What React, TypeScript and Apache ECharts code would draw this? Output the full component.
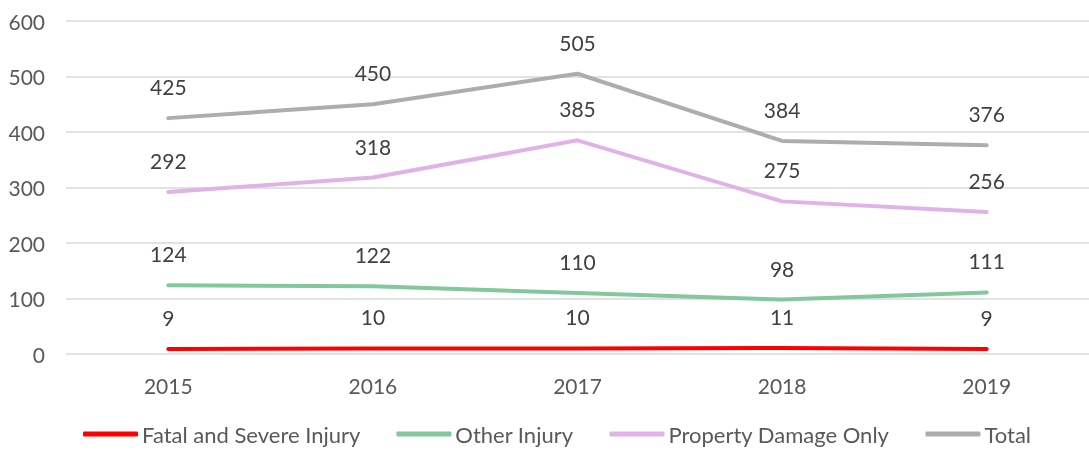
import React, { useEffect, useRef } from "react";
import * as echarts from "echarts";

const years = ["2015", "2016", "2017", "2018", "2019"];
const fatalSevere = [9, 10, 10, 11, 9];
const otherInjury = [124, 122, 110, 98, 111];
const propertyDamage = [292, 318, 385, 275, 256];
const total = [425, 450, 505, 384, 376];
const yTicks = { min: 0, max: 600, interval: 100 };

const FONT = "Lato, 'Open Sans', sans-serif";

function mk(name: string, data: number[], color: string) {
  return {
    name,
    type: "line",
    data,
    showSymbol: true,
    symbol: "circle",
    symbolSize: 0,
    lineStyle: { color, width: 4, cap: "round" },
    itemStyle: { color },
    label: {
      show: true,
      position: "top",
      distance: 21,
      color: "#404040",
      fontSize: 21,
      fontFamily: FONT,
    },
  };
}

export default function App() {
  const ref = useRef<HTMLDivElement>(null);
  useEffect(() => {
    if (!ref.current) return;
    const chart = echarts.init(ref.current, undefined, { renderer: "svg" });
    chart.setOption({
      animation: false,
      textStyle: { fontFamily: FONT },
      grid: { left: 66, top: 21, width: 1029, height: 333, containLabel: false },
      legend: {
        top: 418,
        left: 78,
        itemWidth: 55,
        itemHeight: 5,
        itemGap: 36,
        icon: "roundRect",
        textStyle: { color: "#595959", fontSize: 22, fontFamily: FONT, padding: [0, 0, 0, -1] },
        data: ["Fatal and Severe Injury", "Other Injury", "Property Damage Only", "Total"],
      },
      xAxis: {
        type: "category",
        data: years,
        boundaryGap: true,
        axisLine: { show: false },
        axisTick: { show: false },
        axisLabel: { color: "#595959", fontSize: 21, fontFamily: FONT, margin: 21 },
      },
      yAxis: {
        type: "value",
        min: yTicks.min,
        max: yTicks.max,
        interval: yTicks.interval,
        axisLine: { show: false },
        axisTick: { show: false },
        axisLabel: { color: "#595959", fontSize: 21, fontFamily: FONT, margin: 21 },
        splitLine: { lineStyle: { color: "#D9D9D9", width: 1.5 } },
      },
      series: [
        mk("Fatal and Severe Injury", fatalSevere, "#FF0000"),
        mk("Other Injury", otherInjury, "#82C89C"),
        mk("Property Damage Only", propertyDamage, "#E0B2E8"),
        mk("Total", total, "#ADADAD"),
      ],
    });
    return () => chart.dispose();
  }, []);
  return (
    <div
      ref={ref}
      style={{ position: "fixed", left: 0, top: 0, width: 1089, height: 450, overflow: "visible" }}
    />
  );
}
